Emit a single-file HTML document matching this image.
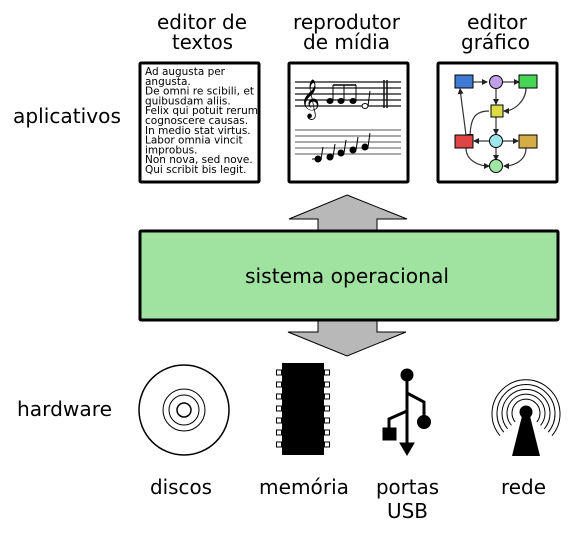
<!DOCTYPE html>
<html><head><meta charset="utf-8"><style>
html,body{margin:0;padding:0;background:#fff;}
svg{display:block;}
text{font-family:"DejaVu Sans","Liberation Sans",sans-serif;fill:#000;}
</style></head><body>
<svg width="571" height="539" viewBox="0 0 571 539" xmlns="http://www.w3.org/2000/svg">
<defs>
<marker id="ah" markerWidth="6" markerHeight="6" refX="5" refY="3" orient="auto" markerUnits="userSpaceOnUse"><path d="M0,0 L6,3 L0,6z" fill="#222"/></marker>
</defs>
<g font-size="20">
<text x="157" y="29" textLength="90" lengthAdjust="spacingAndGlyphs">editor de</text>
<text x="172" y="49" textLength="61" lengthAdjust="spacingAndGlyphs">textos</text>
<text x="293" y="29" textLength="107" lengthAdjust="spacingAndGlyphs">reprodutor</text>
<text x="303" y="49" textLength="87" lengthAdjust="spacingAndGlyphs">de mídia</text>
<text x="467" y="29" textLength="60" lengthAdjust="spacingAndGlyphs">editor</text>
<text x="461" y="49" textLength="69" lengthAdjust="spacingAndGlyphs">gráfico</text>
<text x="13" y="123" textLength="108" lengthAdjust="spacingAndGlyphs">aplicativos</text>
<text x="17" y="416" textLength="95" lengthAdjust="spacingAndGlyphs">hardware</text>
<text x="150" y="494" textLength="62" lengthAdjust="spacingAndGlyphs">discos</text>
<text x="259" y="494" textLength="90" lengthAdjust="spacingAndGlyphs">memória</text>
<text x="376" y="494" textLength="63" lengthAdjust="spacingAndGlyphs">portas</text>
<text x="387" y="518" textLength="41" lengthAdjust="spacingAndGlyphs">USB</text>
<text x="501" y="494" textLength="45" lengthAdjust="spacingAndGlyphs">rede</text>
</g>

<!-- text editor box -->
<rect x="140" y="63" width="119" height="119" fill="#fff" stroke="#000" stroke-width="3" rx="1"/>
<g font-size="10.5">
<text x="145" y="75" textLength="80" lengthAdjust="spacingAndGlyphs">Ad augusta per</text>
<text x="145" y="84.8">angusta.</text>
<text x="145" y="94.6" textLength="109" lengthAdjust="spacingAndGlyphs">De omni re scibili, et</text>
<text x="145" y="104.4">quibusdam aliis.</text>
<text x="145" y="114.2" textLength="113" lengthAdjust="spacingAndGlyphs">Felix qui potuit rerum</text>
<text x="145" y="124">cognoscere causas.</text>
<text x="145" y="133.8">In medio stat virtus.</text>
<text x="145" y="143.6">Labor omnia vincit</text>
<text x="145" y="153.4">improbus.</text>
<text x="145" y="163.2">Non nova, sed nove.</text>
<text x="145" y="173">Qui scribit bis legit.</text>
</g>

<!-- music box -->
<rect x="289" y="63" width="119" height="119" fill="#fff" stroke="#000" stroke-width="3" rx="1"/>
<g stroke="#111" stroke-width="1.2">
<line x1="295" y1="82" x2="401" y2="82"/><line x1="295" y1="88" x2="401" y2="88"/><line x1="295" y1="94" x2="401" y2="94"/><line x1="295" y1="100" x2="401" y2="100"/><line x1="295" y1="106" x2="401" y2="106"/>
<line x1="384" y1="80" x2="384" y2="108" stroke-width="1.5"/><line x1="387" y1="80" x2="387" y2="108" stroke-width="1.5"/>
</g>
<text x="300" y="110" font-size="34">𝄞</text>
<g fill="#000" stroke="#000" stroke-width="1">
<ellipse cx="330" cy="101" rx="3" ry="2.5"/><ellipse cx="341" cy="101" rx="3" ry="2.5"/><ellipse cx="353" cy="101" rx="3" ry="2.5"/>
<line x1="333" y1="101" x2="333" y2="85"/><line x1="344" y1="101" x2="344" y2="85"/><line x1="356" y1="101" x2="356" y2="85"/>
<line x1="333" y1="85" x2="356" y2="85" stroke-width="1.5"/>
<ellipse cx="365" cy="106" rx="3" ry="2.5" fill="#fff"/><line x1="368" y1="106" x2="370" y2="91"/>
</g>
<g stroke="#777" stroke-width="1.2">
<line x1="295" y1="130" x2="401" y2="130"/><line x1="295" y1="136" x2="401" y2="136"/><line x1="295" y1="142" x2="401" y2="142"/><line x1="295" y1="148" x2="401" y2="148"/><line x1="295" y1="154" x2="401" y2="154"/>
</g>
<g fill="#000" stroke="#000" stroke-width="1">
<line x1="312" y1="159" x2="322" y2="159"/>
<circle cx="318" cy="159" r="3"/><circle cx="330" cy="157" r="3"/><circle cx="341" cy="153" r="3"/><circle cx="353" cy="150" r="3"/><circle cx="365" cy="147" r="3"/>
<line x1="321" y1="159" x2="323" y2="147"/><line x1="333" y1="157" x2="335" y2="144"/><line x1="344" y1="153" x2="346" y2="140"/><line x1="356" y1="150" x2="358" y2="137"/><line x1="368" y1="147" x2="370" y2="133"/>
</g>

<!-- graph box -->
<rect x="438" y="63" width="119" height="119" fill="#fff" stroke="#000" stroke-width="3" rx="1"/>
<g fill="none" stroke="#333" stroke-width="1.2" marker-end="url(#ah)">
<line x1="473" y1="82" x2="487" y2="82"/>
<line x1="503" y1="82" x2="519" y2="82"/>
<line x1="496" y1="89" x2="496" y2="104"/>
<path d="M526,88 C526,100 515,111 504,111"/>
<path d="M489,111 C475,111 470,118 470,139"/>
<line x1="496" y1="117" x2="496" y2="134"/>
<line x1="466" y1="135" x2="460" y2="89"/>
<line x1="489" y1="141" x2="474" y2="141"/>
<line x1="503" y1="141" x2="518" y2="141"/>
<line x1="496" y1="148" x2="496" y2="160"/>
<path d="M466,148 C466,160 478,166 489,166"/>
<path d="M526,148 C526,160 515,166 504,166"/>
</g>
<g stroke="#000" stroke-width="1">
<rect x="455" y="75" width="18" height="13" fill="#3f7bd4"/>
<circle cx="496" cy="82" r="6.5" fill="#c1a0e8"/>
<rect x="519" y="75" width="18" height="13" fill="#46d656"/>
<rect x="491" y="105" width="12" height="12" fill="#dcdc45"/>
<rect x="455" y="135" width="18" height="13" fill="#de4545"/>
<circle cx="496" cy="141" r="6.5" fill="#a0e6ee"/>
<rect x="519" y="135" width="18" height="13" fill="#d6ad45"/>
<circle cx="496" cy="166" r="6.5" fill="#a0e6a0"/>
</g>

<!-- arrows -->
<polygon points="347,195 407,219 377,219 377,232 318,232 318,219 289,219" fill="#b8b8b8" stroke="#000" stroke-width="1"/>
<polygon points="318,319 377,319 377,332 406,332 347,356 288,332 318,332" fill="#b8b8b8" stroke="#000" stroke-width="1"/>
<!-- OS box -->
<rect x="140" y="231" width="418" height="89" fill="#a0e3a0" stroke="#000" stroke-width="3" rx="1"/>
<text x="245" y="283" font-size="20" textLength="204" lengthAdjust="spacingAndGlyphs">sistema operacional</text>

<!-- disc -->
<g fill="none" stroke="#000">
<circle cx="184" cy="410" r="45" stroke-width="1.5"/>
<circle cx="184" cy="410" r="21" stroke-width="1"/>
<circle cx="184" cy="410" r="15" stroke-width="1"/>
<circle cx="184" cy="410" r="7" stroke-width="1.5"/>
</g>
<!-- chip -->
<rect x="282" y="363" width="42" height="92" fill="#000"/>
<g fill="#fff" stroke="#000" stroke-width="1">
<rect x="276.5" y="370" width="5" height="5"/><rect x="276.5" y="382" width="5" height="5"/><rect x="276.5" y="394" width="5" height="5"/><rect x="276.5" y="406" width="5" height="5"/><rect x="276.5" y="418" width="5" height="5"/><rect x="276.5" y="430" width="5" height="5"/><rect x="276.5" y="442" width="5" height="5"/>
<rect x="324.5" y="370" width="5" height="5"/><rect x="324.5" y="382" width="5" height="5"/><rect x="324.5" y="394" width="5" height="5"/><rect x="324.5" y="406" width="5" height="5"/><rect x="324.5" y="418" width="5" height="5"/><rect x="324.5" y="430" width="5" height="5"/><rect x="324.5" y="442" width="5" height="5"/>
</g>
<!-- USB -->
<g fill="#000" stroke="#000">
<circle cx="407" cy="375" r="6"/>
<line x1="407" y1="375" x2="407" y2="445" stroke-width="3"/>
<polygon points="400,443 414,443 407,455"/>
<polyline points="407,393 424,402 424,420" fill="none" stroke-width="3"/>
<circle cx="424" cy="422" r="6.5"/>
<polyline points="407,411 389,419 389,430" fill="none" stroke-width="3"/>
<rect x="383" y="428" width="13" height="12"/>
</g>
<!-- antenna -->
<g fill="none" stroke="#000" stroke-width="1">
<path d="M515.1,421.9 A14,14 0 1 1 536.9,421.9"/>
<path d="M511.4,425.3 A19,19 0 1 1 540.6,425.3"/>
<path d="M507.6,428.8 A24,24 0 1 1 544.4,428.8"/>
<path d="M503.8,432.2 A29,29 0 1 1 548.2,432.2"/>
<path d="M500,435.7 A34,34 0 1 1 552,435.7"/>
</g>
<circle cx="526" cy="412" r="6.5" fill="#000"/>
<polygon points="523,412 529,412 540,456 512,456" fill="#000"/>
</svg>
</body></html>
